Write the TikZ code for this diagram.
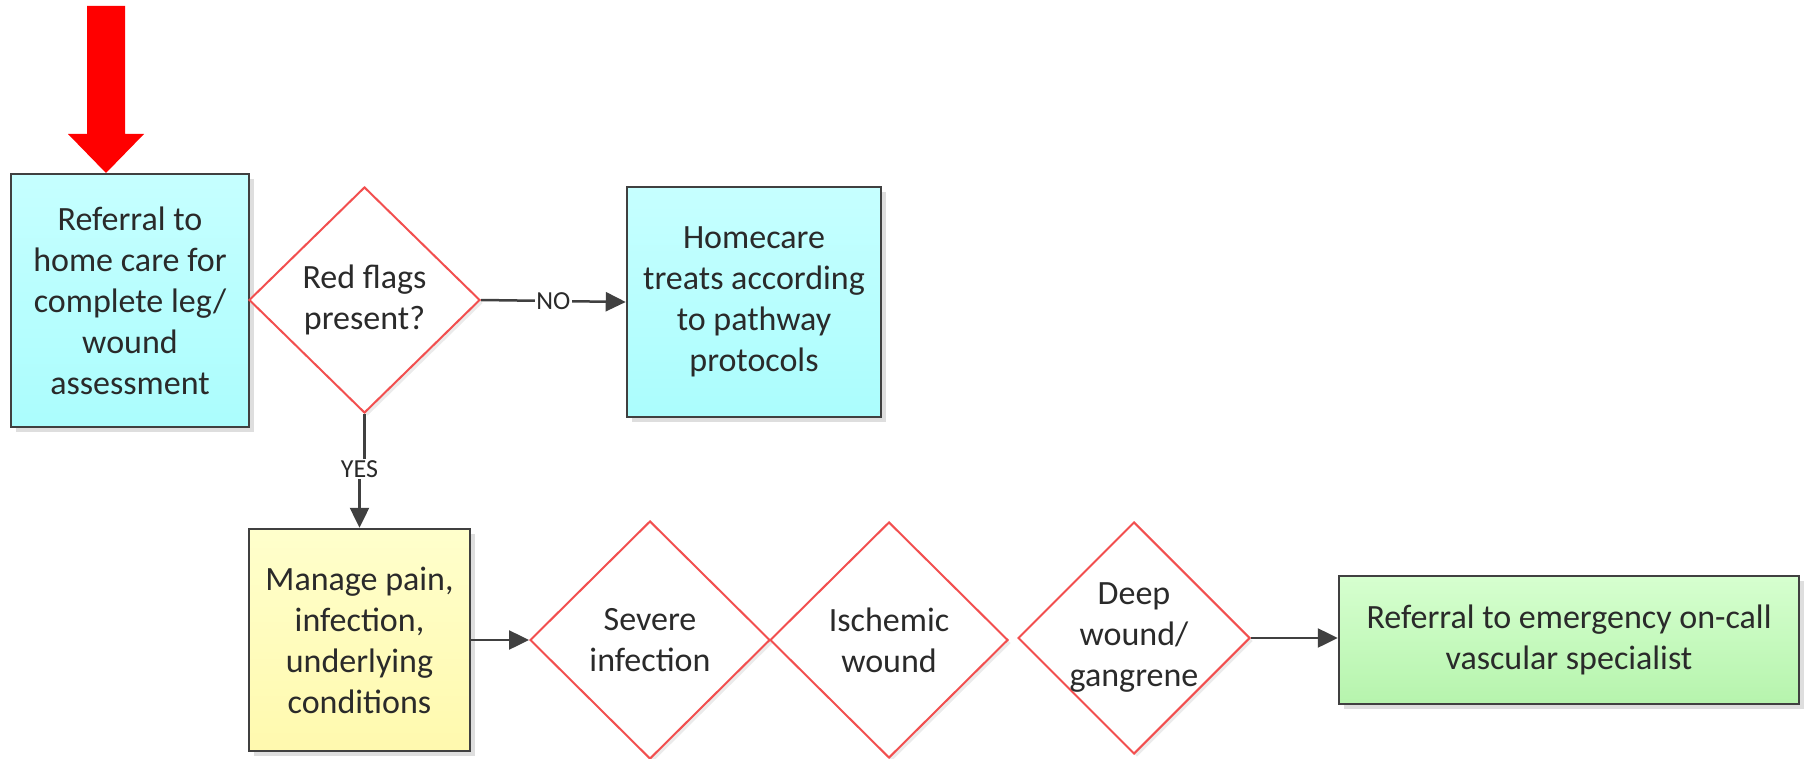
\documentclass[tikz,border=0pt]{standalone}
\usepackage{fontspec}
\setmainfont{Carlito}
\usetikzlibrary{shapes.geometric,arrows.meta,shadows}
\definecolor{cyanT}{HTML}{C6FFFF}
\definecolor{cyanB}{HTML}{ABFDFD}
\definecolor{yelT}{HTML}{FFFFCC}
\definecolor{yelB}{HTML}{FFF9AE}
\definecolor{grnT}{HTML}{D6FFCF}
\definecolor{grnB}{HTML}{B6F4AD}
\definecolor{edge}{HTML}{404040}
\definecolor{dred}{HTML}{F24F4F}
\definecolor{txt}{HTML}{2A2A2A}
\begin{document}
\begin{tikzpicture}[x=1pt,y=-1pt,
  box/.style={draw=edge, line width=2.5pt, align=center, text=txt, inner sep=0pt,
    font=\fontsize{34}{41}\selectfont,
    drop shadow={shadow xshift=5pt, shadow yshift=-5pt, fill=black, opacity=0.13}},
  dia/.style={diamond, draw=dred, line width=2pt, fill=white, inner sep=0pt,
    drop shadow={shadow xshift=3pt, shadow yshift=-3pt, fill=black, opacity=0.08}},
  dtext/.style={align=center, text=txt, inner sep=0pt, font=\fontsize{34}{41}\selectfont},
  conn/.style={draw=edge, line width=2.5pt, -{Triangle[length=20pt,width=19pt]}},
  plain/.style={draw=edge, line width=2.5pt},
  lab/.style={fill=white, inner sep=1.5pt, text=txt, font=\fontsize{26}{28}\selectfont}]
\useasboundingbox (0,0) rectangle (1806,759);

% red entry arrow
\fill[red] (87,6) -- (125,6) -- (125,134) -- (144,134) -- (106,173) -- (68,134) -- (87,134) -- cycle;

% boxes
\node[box, top color=cyanT, bottom color=cyanB, minimum width=238, minimum height=253]
  (b1) at (130,300.5) {Referral to\\home care for\\complete leg/\\wound\\assessment};
\node[box, top color=cyanT, bottom color=cyanB, minimum width=254, minimum height=230]
  (home) at (754,302) {Homecare\\treats according\\to pathway\\protocols};
\node[box, top color=yelT, bottom color=yelB, minimum width=221, minimum height=222]
  (m) at (359.5,640) {Manage pain,\\infection,\\underlying\\conditions};
\node[box, top color=grnT, bottom color=grnB, minimum width=460, minimum height=128]
  (g) at (1569,640) {Referral to emergency on-call\\vascular specialist};

% diamonds
\node[dia, minimum width=231, minimum height=226] (d1) at (364.5,300) {};
\node[dtext] (d1t) at (d1) {Red flags\\present?};
\node[dia, minimum width=240, minimum height=238] (d2) at (650,640) {};
\node[dtext] (d2t) at (d2) {Severe\\infection};
\node[dia, minimum width=238, minimum height=236] (d3) at (889,640) {};
\node[dtext] (d3t) at (d3) {Ischemic\\wound};
\node[dia, minimum width=232, minimum height=232] (d4) at (1134,638) {};
\node[dtext] (d4t) at (d4) {Deep\\wound/\\gangrene};

% connectors
\draw[conn] (d1.east) -- node[lab] (no) {NO} (home.west);
\node[lab] (yes) at (359.5,469) {YES};
\draw[plain] (d1.south) -- (d1.south |- yes.north);
\draw[conn] (yes.south) -- (m.north);
\draw[conn] (m.east) -- (d2.west);
\draw[conn] (d4.east) -- (d4.east -| g.west);
\end{tikzpicture}
\end{document}
